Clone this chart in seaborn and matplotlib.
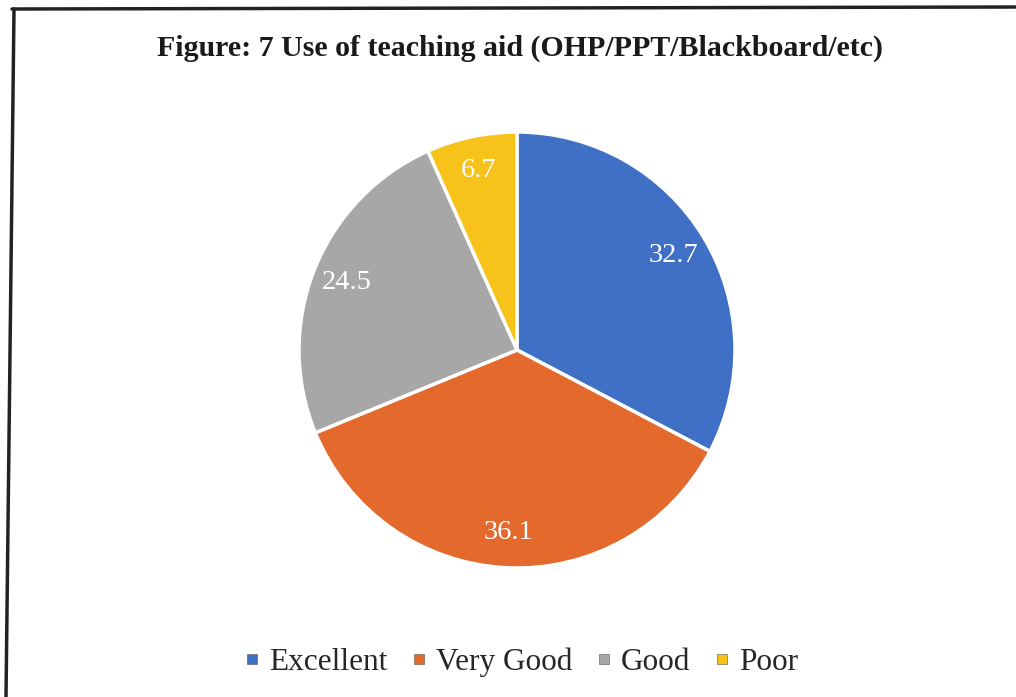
import matplotlib.pyplot as plt
import seaborn as sns
from matplotlib.lines import Line2D

# Figure 7 data (percent of responses)
categories = ['Excellent', 'Very Good', 'Good', 'Poor']
values = [32.7, 36.1, 24.5, 6.7]
colors = ['#3f70c6', '#e36a2c', '#a7a7a7', '#f7c21a']

sns.set_theme(style='white')
plt.rcParams['font.family'] = ['Liberation Serif', 'DejaVu Serif']

fig = plt.figure(figsize=(10.16, 6.97), dpi=100)
fig.patch.set_facecolor('white')

# pie axes: centre ~ (517, 350) px, radius ~ 218 px
ax = fig.add_axes([(517 - 218) / 1016, 1 - (350 + 218) / 697, 436 / 1016, 436 / 697])

wedges, texts, autotexts = ax.pie(
    values, colors=colors, startangle=90, counterclock=False,
    autopct=lambda p: '', pctdistance=0.84,
    wedgeprops=dict(edgecolor='white', linewidth=2.5))

for t, v in zip(autotexts, values):
    t.set_text(f'{v:.1f}')
    t.set_color('white')
    t.set_fontsize(20.5)
ax.set_xlim(-1.0, 1.0)
ax.set_ylim(-1.0, 1.0)
ax.set_aspect('equal')

fig.text(0.512, 1 - 48 / 697, 'Figure: 7 Use of teaching aid (OHP/PPT/Blackboard/etc)',
         ha='center', va='center', fontsize=21.5, fontweight='bold', color='#1a1a1a')

handles = [Line2D([], [], ls='none', marker='s', markersize=6.5, color=c,
                  markeredgecolor='#555555', markeredgewidth=0.4) for c in colors]
fig.legend(handles, categories, loc='center', bbox_to_anchor=(0.513, 1 - 662 / 697),
           ncol=4, frameon=False, fontsize=22.5, handlelength=0.5,
           handletextpad=0.3, columnspacing=0.75)

# page frame of the scanned figure
fig.add_artist(Line2D([12 / 1016, 1.0], [1 - 9 / 697, 1 - 7 / 697], color='#222222', lw=2.5))
fig.add_artist(Line2D([14 / 1016, 6 / 1016], [1 - 9 / 697, 0.0], color='#222222', lw=2.5))

fig.savefig('out.png', dpi=100)
